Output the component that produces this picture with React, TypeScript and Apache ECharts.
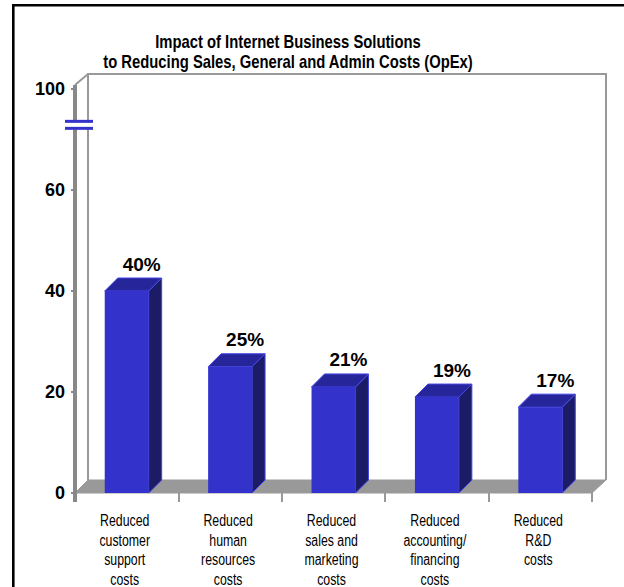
import React, { useEffect, useRef } from "react";
import * as echarts from "echarts";

const titleLines = [
  "Impact of Internet Business Solutions",
  "to Reducing Sales, General and Admin Costs (OpEx)",
];
const categories = [
  "Reduced\ncustomer\nsupport\ncosts",
  "Reduced\nhuman\nresources\ncosts",
  "Reduced\nsales and\nmarketing\ncosts",
  "Reduced\naccounting/\nfinancing\ncosts",
  "Reduced\nR&D\ncosts",
];
const values = [40, 25, 21, 19, 17];
const valueLabels = ["40%", "25%", "21%", "19%", "17%"];
const yTicks = [0, 20, 40, 60, 80];
const yTickLabels: Record<number, string> = { 0: "0", 20: "20", 40: "40", 60: "60", 80: "100" };
const breakValue = 73;

const SANS = "'Liberation Sans', Arial, sans-serif";

export default function App() {
  const ref = useRef<HTMLDivElement>(null);
  useEffect(() => {
    if (!ref.current) return;
    const chart = echarts.init(ref.current, undefined, { renderer: "svg" });
    const D = 13;
    const option: any = {
      animation: false,
      backgroundColor: "#ffffff",
      grid: { left: 75, right: 32, top: 89, bottom: 94 },
      xAxis: {
        type: "category",
        data: categories,
        axisLine: { show: false },
        axisTick: { show: true, length: 9, lineStyle: { color: "#999", width: 2 } },
        axisLabel: { show: false },
        splitLine: { show: false },
      },
      yAxis: {
        type: "value",
        min: yTicks[0],
        max: yTicks[yTicks.length - 1],
        interval: 20,
        axisLine: { show: true, lineStyle: { color: "#888", width: 4 } },
        axisTick: { show: true, length: 4, lineStyle: { color: "#888", width: 2 } },
        axisLabel: {
          fontFamily: SANS,
          fontSize: 18,
          fontWeight: "bold",
          color: "#000",
          margin: 10,
          formatter: (v: number) => yTickLabels[v] ?? String(v),
        },
        splitLine: { show: false },
      },
      graphic: [
        {
          type: "polyline",
          shape: { points: [[13.3, 600], [13.3, 5.3], [640, 5.3]] },
          style: { stroke: "#000", lineWidth: 2.6, fill: "none" },
          z: 100,
        },
        {
          type: "text",
          x: 288,
          y: 32,
          scaleX: 0.8,
          style: {
            text: titleLines.join("\n"),
            align: "center",
            verticalAlign: "top",
            fontFamily: SANS,
            fontSize: 18.5,
            fontWeight: "bold",
            lineHeight: 20,
            fill: "#000",
          },
          z: 100,
        },
      ],
      series: [
        {
          type: "custom",
          z: 1,
          data: [[0, 0]],
          renderItem: (params: any, api: any) => {
            const cs = params.coordSys;
            const L = cs.x, R = cs.x + cs.width, T = cs.y, B = cs.y + cs.height;
            const by = api.coord([0, breakValue])[1];
            const gray = "#999";
            const labels = categories.map((c, i) => {
              const p = api.coord([i, 0]);
              return {
                type: "text",
                x: p[0] - 2,
                y: B + 18,
                scaleX: 0.77,
                style: {
                  text: c,
                  align: "center",
                  verticalAlign: "top",
                  fontFamily: SANS,
                  fontSize: 16,
                  lineHeight: 19.5,
                  fill: "#000",
                },
              };
            });
            return {
              type: "group",
              children: [
                {
                  type: "polygon",
                  shape: { points: [[L, B], [R, B], [R + D + 1, B - D], [L + D, B - D]] },
                  style: { fill: "#999999", stroke: "#999999", lineWidth: 1 },
                },
                {
                  type: "polyline",
                  shape: { points: [[L + D, B - D], [L + D, T - 15], [R + D + 1, T - 15], [R + D + 1, B - D]] },
                  style: { stroke: gray, lineWidth: 2, fill: "none" },
                },
                {
                  type: "line",
                  shape: { x1: L, y1: T - 4, x2: L + D, y2: T - 15 },
                  style: { stroke: gray, lineWidth: 2 },
                },
                {
                  type: "line",
                  shape: { x1: L, y1: T - 4, x2: L, y2: B + 9 },
                  style: { stroke: "#888", lineWidth: 4 },
                },
                {
                  type: "rect",
                  shape: { x: L - 9, y: by - 2, width: 28, height: 5 },
                  style: { fill: "#fff" },
                },
                {
                  type: "line",
                  shape: { x1: L - 10, y1: by - 3, x2: L + 18, y2: by - 3 },
                  style: { stroke: "#3333CC", lineWidth: 3 },
                },
                {
                  type: "line",
                  shape: { x1: L - 10, y1: by + 4, x2: L + 18, y2: by + 4 },
                  style: { stroke: "#3333CC", lineWidth: 3 },
                },
                ...labels,
              ],
            };
          },
        },
        {
          type: "custom",
          z: 3,
          encode: { x: 0, y: 1 },
          data: values.map((v, i) => [i, v]),
          renderItem: (params: any, api: any) => {
            const idx = api.value(0);
            const val = api.value(1);
            const top = api.coord([idx, val]);
            const base = api.coord([idx, 0]);
            const bw = api.size([1, 0])[0] * 0.425;
            const x0 = top[0] - bw / 2, x1 = top[0] + bw / 2;
            const yT = top[1], yB = base[1];
            const edge = "#4545E6";
            return {
              type: "group",
              children: [
                {
                  type: "polygon",
                  shape: { points: [[x1, yT], [x1 + D, yT - D], [x1 + D, yB - D], [x1, yB]] },
                  style: { fill: "#1C1C66", stroke: edge, lineWidth: 1 },
                },
                {
                  type: "polygon",
                  shape: { points: [[x0, yT], [x0 + D, yT - D], [x1 + D, yT - D], [x1, yT]] },
                  style: { fill: "#26269A", stroke: edge, lineWidth: 1 },
                },
                {
                  type: "rect",
                  shape: { x: x0, y: yT, width: bw, height: yB - yT },
                  style: { fill: "#3333CC" },
                },
                {
                  type: "text",
                  style: {
                    text: valueLabels[params.dataIndex],
                    x: top[0] + 15,
                    y: yT - 27,
                    align: "center",
                    verticalAlign: "middle",
                    fontFamily: SANS,
                    fontSize: 19,
                    fontWeight: "bold",
                    fill: "#000",
                  },
                },
              ],
            };
          },
        },
      ],
    };
    chart.setOption(option);
    return () => chart.dispose();
  }, []);
  return (
    <div
      ref={ref}
      style={{ position: "absolute", left: 0, top: 0, width: 624, height: 587 }}
    />
  );
}
